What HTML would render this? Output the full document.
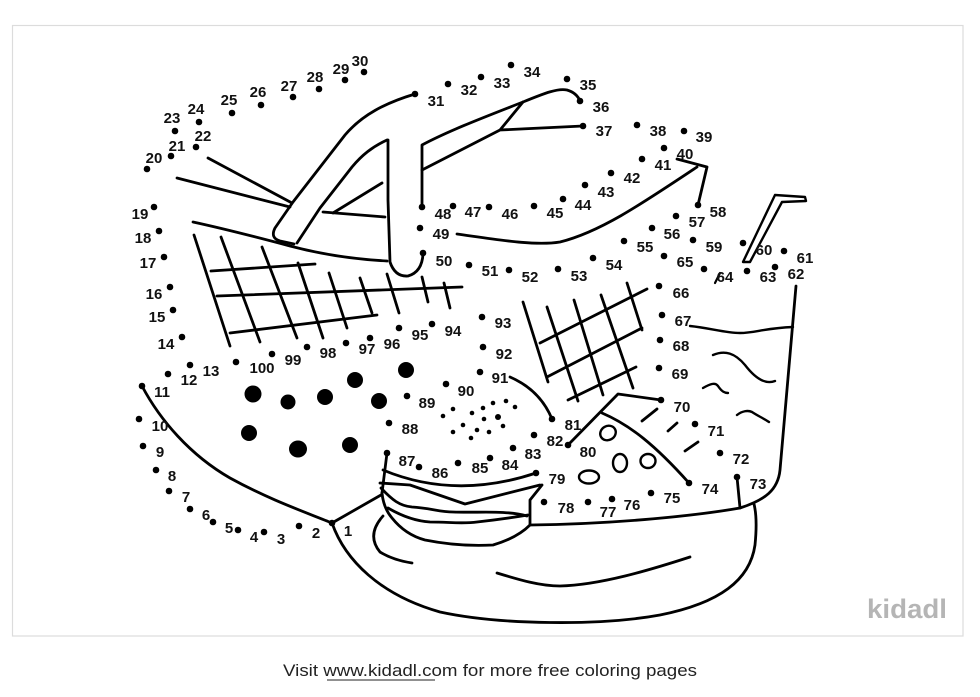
<!DOCTYPE html>
<html><head><meta charset="utf-8"><style>
html,body{margin:0;padding:0;background:#fff;}
svg{display:block;}
.l{fill:none;stroke:#000;stroke-width:2.8;stroke-linecap:round;stroke-linejoin:round;}
.n{font-family:"Liberation Sans",Arial,sans-serif;font-weight:bold;font-size:15px;fill:#111;text-anchor:middle;}
</style></head><body>
<svg width="980" height="697" viewBox="0 0 980 697" xmlns="http://www.w3.org/2000/svg">
<rect x="0" y="0" width="980" height="697" fill="#fff"/>
<rect x="12.5" y="25.5" width="950.5" height="610.5" fill="#fff" stroke="#dcdcdc" stroke-width="1.2"/>

<!-- lines -->
<g class="l">
<!-- left contour 11 -> 1 -->
<path d="M142,386 C160,420 190,455 230,478 C270,500 305,512 332,523"/>
<path d="M332,523 L381,495"/>
<!-- bowl -->
<path d="M332,523 C345,560 380,595 440,612 C500,625 600,626 660,615 C720,603 750,580 755,545 C757,525 756,512 754,504"/>
<path d="M383,516 Q366,535 380,552 Q393,560 412,563"/>
<path d="M497,573 C520,580 540,586 560,586 C600,585 650,570 690,557"/>
<path d="M530,525 C620,524 700,515 740,508 C765,500 778,490 780,470 L796,286"/>
<path d="M737,477 L740,508"/>
<!-- wedge -->
<path d="M387,453 L382,493"/>
<path d="M383,470 Q455,500 536,473"/>
<path d="M380,483 L410,485 L465,504 L540,485"/>
<path d="M381,488 C392,500 400,506 412,507 C430,508 440,512 453,512 C480,513 505,510 527,516"/>
<path d="M388,508 C400,515 415,521 430,522 C450,522 462,524 477,522 C495,520 510,518 528,515"/>
<path d="M382,493 C383,503 386,511 392,518 C400,528 410,536 425,540 C450,545 475,546 493,545 C510,540 522,533 530,525 L530,500 L542,485"/>
<!-- pie -->
<path d="M568,445 L618,394 L661,400"/>
<path d="M602,413 C630,425 655,445 689,483"/>
<path d="M642,421 L657,409"/>
<path d="M668,431 L677,423"/>
<path d="M685,451 L698,442"/>
<ellipse cx="608" cy="433" rx="8" ry="7" transform="rotate(-30 608 433)" stroke-width="2.4"/>
<ellipse cx="620" cy="463" rx="7" ry="9" stroke-width="2.4"/>
<ellipse cx="648" cy="461" rx="7.5" ry="7" stroke-width="2.4"/>
<ellipse cx="589" cy="477" rx="10" ry="6.5" stroke-width="2.4"/>
<path d="M510,377 Q540,390 552,419"/>
<!-- right grid -->
<path d="M523,302 L548,382 M547,307 L578,401 M574,300 L603,395 M601,295 L633,388 M627,283 L642,330"/>
<path d="M540,343 L647,289 M547,377 L642,328 M568,400 L636,367"/>
<!-- left grid -->
<path d="M194,235 L230,346 M221,237 L260,342 M262,247 L297,338 M298,263 L323,338 M329,273 L347,328 M360,278 L372,313 M387,274 L399,313 M422,277 L428,302 M444,283 L450,308"/>
<path d="M211,271 L315,264 M217,296 L462,287 M230,333 L377,315"/>
<!-- left handle -->
<path d="M415,94 C385,103 362,115 345,135 L293,202 L275,228 Q270,238 280,241 L294,244"/>
<path d="M387,140 C372,147 362,155 352,167 L320,208 L297,243"/>
<path d="M382,183 L333,213 M323,212 L385,217"/>
<path d="M388,140 L388,200 L390,262 Q395,277 408,276 Q422,272 423,254"/>
<path d="M208,158 L292,203 M177,178 L290,207"/>
<path d="M193,222 C230,230 260,238 290,246 C320,254 350,259 387,261"/>
<!-- right handle -->
<path d="M422,207 L422,145 C450,130 490,115 523,102 C545,93 558,88 567,90 C574,92 578,96 580,101"/>
<path d="M422,170 L500,130 L583,126 M500,130 L523,102"/>
<!-- tray -->
<path d="M457,234 C500,240 535,246 560,242 C600,232 640,205 697,167"/>
<path d="M677,159 L707,167 L698,205"/>
<!-- straw -->
<path d="M743,262 L775,195 L805,197 L806,201 L782,202 L750,262 Z" stroke-width="2.4"/>
<!-- bucket -->
<path d="M690,326 C710,328 725,333 740,333 C755,333 765,328 793,327" stroke-width="2.4"/>
<path d="M713,355 C725,350 735,353 745,365 C755,378 765,385 775,381" stroke-width="2.4"/>
<path d="M703,388 C710,384 715,382 718,386 C722,392 725,393 728,393" stroke-width="2.4"/>
<path d="M737,415 C742,411 748,410 752,412 C758,416 763,418 769,422" stroke-width="2.4"/>
<path d="M715,283 L720,273" stroke-width="2.2"/>
</g>

<!-- big dots -->
<g fill="#000">
<circle cx="253" cy="394" r="8.5"/>
<circle cx="288" cy="402" r="7.5"/>
<circle cx="325" cy="397" r="8"/>
<circle cx="355" cy="380" r="8"/>
<circle cx="379" cy="401" r="8"/>
<circle cx="406" cy="370" r="8"/>
<circle cx="249" cy="433" r="8"/>
<ellipse cx="298" cy="449" rx="9" ry="8.5"/>
<circle cx="350" cy="445" r="8"/>
<!-- sprinkles -->
<circle cx="443" cy="416" r="2.3"/><circle cx="453" cy="409" r="2.3"/><circle cx="472" cy="413" r="2.3"/>
<circle cx="483" cy="408" r="2.3"/><circle cx="493" cy="403" r="2.3"/><circle cx="506" cy="401" r="2.3"/>
<circle cx="515" cy="407" r="2.3"/><circle cx="498" cy="417" r="3"/><circle cx="484" cy="419" r="2.3"/>
<circle cx="463" cy="425" r="2.3"/><circle cx="477" cy="430" r="2.3"/><circle cx="489" cy="432" r="2.3"/>
<circle cx="503" cy="426" r="2.3"/><circle cx="453" cy="432" r="2.3"/><circle cx="471" cy="438" r="2.3"/>
</g>

<!-- numbered dots -->
<g fill="#000">
<circle cx="332" cy="523" r="3.3"/><circle cx="299" cy="526" r="3.3"/><circle cx="264" cy="532" r="3.3"/>
<circle cx="238" cy="530" r="3.3"/><circle cx="213" cy="522" r="3.3"/><circle cx="190" cy="509" r="3.3"/>
<circle cx="169" cy="491" r="3.3"/><circle cx="156" cy="470" r="3.3"/><circle cx="143" cy="446" r="3.3"/>
<circle cx="139" cy="419" r="3.3"/><circle cx="142" cy="386" r="3.3"/><circle cx="168" cy="374" r="3.3"/>
<circle cx="190" cy="365" r="3.3"/><circle cx="182" cy="337" r="3.3"/><circle cx="173" cy="310" r="3.3"/>
<circle cx="170" cy="287" r="3.3"/><circle cx="164" cy="257" r="3.3"/><circle cx="159" cy="231" r="3.3"/>
<circle cx="154" cy="207" r="3.3"/><circle cx="147" cy="169" r="3.3"/><circle cx="171" cy="156" r="3.3"/>
<circle cx="196" cy="147" r="3.3"/><circle cx="175" cy="131" r="3.3"/><circle cx="199" cy="122" r="3.3"/>
<circle cx="232" cy="113" r="3.3"/><circle cx="261" cy="105" r="3.3"/><circle cx="293" cy="97" r="3.3"/>
<circle cx="319" cy="89" r="3.3"/><circle cx="345" cy="80" r="3.3"/><circle cx="364" cy="72" r="3.3"/>
<circle cx="415" cy="94" r="3.3"/><circle cx="448" cy="84" r="3.3"/><circle cx="481" cy="77" r="3.3"/>
<circle cx="511" cy="65" r="3.3"/><circle cx="567" cy="79" r="3.3"/><circle cx="580" cy="101" r="3.3"/>
<circle cx="583" cy="126" r="3.3"/><circle cx="637" cy="125" r="3.3"/><circle cx="684" cy="131" r="3.3"/>
<circle cx="664" cy="148" r="3.3"/><circle cx="642" cy="159" r="3.3"/><circle cx="611" cy="173" r="3.3"/>
<circle cx="585" cy="185" r="3.3"/><circle cx="563" cy="199" r="3.3"/><circle cx="534" cy="206" r="3.3"/>
<circle cx="489" cy="207" r="3.3"/><circle cx="453" cy="206" r="3.3"/><circle cx="422" cy="207" r="3.3"/>
<circle cx="420" cy="228" r="3.3"/><circle cx="423" cy="253" r="3.3"/><circle cx="469" cy="265" r="3.3"/>
<circle cx="509" cy="270" r="3.3"/><circle cx="558" cy="269" r="3.3"/><circle cx="593" cy="258" r="3.3"/>
<circle cx="624" cy="241" r="3.3"/><circle cx="652" cy="228" r="3.3"/><circle cx="676" cy="216" r="3.3"/>
<circle cx="698" cy="205" r="3.3"/><circle cx="693" cy="240" r="3.3"/><circle cx="743" cy="243" r="3.3"/>
<circle cx="784" cy="251" r="3.3"/><circle cx="775" cy="267" r="3.3"/><circle cx="747" cy="271" r="3.3"/>
<circle cx="704" cy="269" r="3.3"/><circle cx="664" cy="256" r="3.3"/><circle cx="659" cy="286" r="3.3"/>
<circle cx="662" cy="315" r="3.3"/><circle cx="660" cy="340" r="3.3"/><circle cx="659" cy="368" r="3.3"/>
<circle cx="661" cy="400" r="3.3"/><circle cx="695" cy="424" r="3.3"/><circle cx="720" cy="453" r="3.3"/>
<circle cx="737" cy="477" r="3.3"/><circle cx="689" cy="483" r="3.3"/><circle cx="651" cy="493" r="3.3"/>
<circle cx="612" cy="499" r="3.3"/><circle cx="588" cy="502" r="3.3"/><circle cx="544" cy="502" r="3.3"/>
<circle cx="536" cy="473" r="3.3"/><circle cx="568" cy="445" r="3.3"/><circle cx="552" cy="419" r="3.3"/>
<circle cx="534" cy="435" r="3.3"/><circle cx="513" cy="448" r="3.3"/><circle cx="490" cy="458" r="3.3"/>
<circle cx="458" cy="463" r="3.3"/><circle cx="419" cy="467" r="3.3"/><circle cx="387" cy="453" r="3.3"/>
<circle cx="389" cy="423" r="3.3"/><circle cx="407" cy="396" r="3.3"/><circle cx="446" cy="384" r="3.3"/>
<circle cx="480" cy="372" r="3.3"/><circle cx="483" cy="347" r="3.3"/><circle cx="482" cy="317" r="3.3"/>
<circle cx="432" cy="324" r="3.3"/><circle cx="399" cy="328" r="3.3"/><circle cx="370" cy="338" r="3.3"/>
<circle cx="346" cy="343" r="3.3"/><circle cx="307" cy="347" r="3.3"/><circle cx="272" cy="354" r="3.3"/>
<circle cx="236" cy="362" r="3.3"/>
</g>

<!-- labels -->
<g class="n">
<text x="348" y="536">1</text><text x="316" y="538">2</text><text x="281" y="544">3</text>
<text x="254" y="542">4</text><text x="229" y="533">5</text><text x="206" y="520">6</text>
<text x="186" y="502">7</text><text x="172" y="481">8</text><text x="160" y="457">9</text>
<text x="160" y="431">10</text><text x="162" y="397">11</text><text x="189" y="385">12</text>
<text x="211" y="376">13</text><text x="166" y="349">14</text><text x="157" y="322">15</text>
<text x="154" y="299">16</text><text x="148" y="268">17</text><text x="143" y="243">18</text>
<text x="140" y="219">19</text><text x="154" y="163">20</text><text x="177" y="151">21</text>
<text x="203" y="141">22</text><text x="172" y="123">23</text><text x="196" y="114">24</text>
<text x="229" y="105">25</text><text x="258" y="97">26</text><text x="289" y="91">27</text>
<text x="315" y="82">28</text><text x="341" y="74">29</text><text x="360" y="66">30</text>
<text x="436" y="106">31</text><text x="469" y="95">32</text><text x="502" y="88">33</text>
<text x="532" y="77">34</text><text x="588" y="90">35</text><text x="601" y="112">36</text>
<text x="604" y="136">37</text><text x="658" y="136">38</text><text x="704" y="142">39</text>
<text x="685" y="159">40</text><text x="663" y="170">41</text><text x="632" y="183">42</text>
<text x="606" y="197">43</text><text x="583" y="210">44</text><text x="555" y="218">45</text>
<text x="510" y="219">46</text><text x="473" y="217">47</text><text x="443" y="219">48</text>
<text x="441" y="239">49</text><text x="444" y="266">50</text><text x="490" y="276">51</text>
<text x="530" y="282">52</text><text x="579" y="281">53</text><text x="614" y="270">54</text>
<text x="645" y="252">55</text><text x="672" y="239">56</text><text x="697" y="227">57</text>
<text x="718" y="217">58</text><text x="714" y="252">59</text><text x="764" y="255">60</text>
<text x="805" y="263">61</text><text x="796" y="279">62</text><text x="768" y="282">63</text>
<text x="725" y="282">64</text><text x="685" y="267">65</text><text x="681" y="298">66</text>
<text x="683" y="326">67</text><text x="681" y="351">68</text><text x="680" y="379">69</text>
<text x="682" y="412">70</text><text x="716" y="436">71</text><text x="741" y="464">72</text>
<text x="758" y="489">73</text><text x="710" y="494">74</text><text x="672" y="503">75</text>
<text x="632" y="510">76</text><text x="608" y="517">77</text><text x="566" y="513">78</text>
<text x="557" y="484">79</text><text x="588" y="457">80</text><text x="573" y="430">81</text>
<text x="555" y="446">82</text><text x="533" y="459">83</text><text x="510" y="470">84</text>
<text x="480" y="473">85</text><text x="440" y="478">86</text><text x="407" y="466">87</text>
<text x="410" y="434">88</text><text x="427" y="408">89</text><text x="466" y="396">90</text>
<text x="500" y="383">91</text><text x="504" y="359">92</text><text x="503" y="328">93</text>
<text x="453" y="336">94</text><text x="420" y="340">95</text><text x="392" y="349">96</text>
<text x="367" y="354">97</text><text x="328" y="358">98</text><text x="293" y="365">99</text>
<text x="262" y="373">100</text>
</g>

<!-- logo -->
<text x="867" y="618" font-family="Liberation Sans, Arial, sans-serif" font-weight="bold" font-size="27" fill="#b5b5b5" textLength="80" lengthAdjust="spacingAndGlyphs">kidadl</text>

<!-- footer -->
<text x="283" y="676" font-family="Liberation Sans, Arial, sans-serif" font-size="17" fill="#222" textLength="414" lengthAdjust="spacingAndGlyphs">Visit www.kidadl.com for more free coloring pages</text>
<line x1="327" y1="680" x2="435" y2="680" stroke="#222" stroke-width="1"/>
</svg>
</body></html>
